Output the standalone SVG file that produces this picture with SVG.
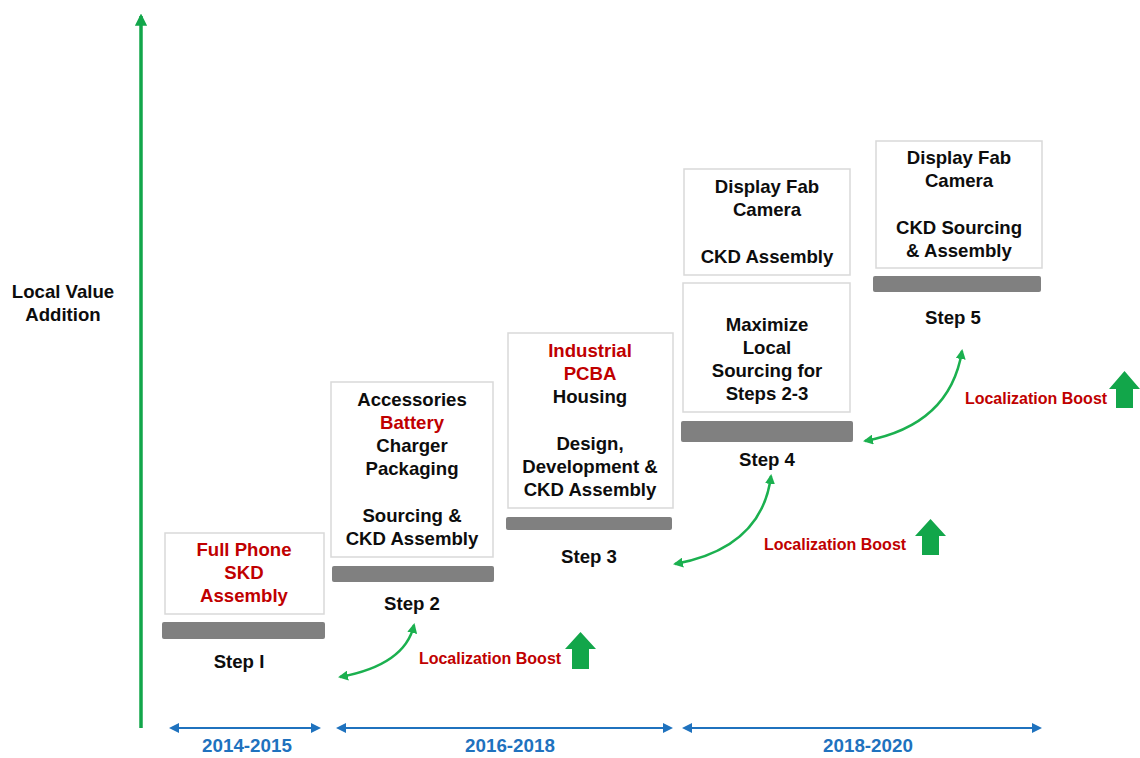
<svg xmlns="http://www.w3.org/2000/svg" width="1140" height="758" viewBox="0 0 1140 758">
<defs>
<style>
text{font-family:"Liberation Sans",Arial,sans-serif;font-weight:bold;text-anchor:middle}
.t{font-size:18.6px;fill:#0d0d0d}
.r{fill:#C00000}
.box{fill:#fff;stroke:#D9D9D9;stroke-width:1.5}
.bar{fill:#808080}
.lb{font-size:16px;fill:#C00000}
.yr{font-size:18.8px;fill:#1F72BE}
.curve{fill:none;stroke:#1BB04F;stroke-width:2.5}
.tl{stroke:#1F72BE;stroke-width:2;fill:none}
.up{fill:#12A64A}
</style>
<marker id="ga" viewBox="0 0 10 10" refX="8" refY="5" markerWidth="4" markerHeight="4" orient="auto-start-reverse"><path d="M0,0 L10,5 L0,10 z" fill="#1BB04F"/></marker>
<marker id="ba" viewBox="0 0 10 10" refX="8" refY="5" markerWidth="5" markerHeight="5" orient="auto-start-reverse"><path d="M0,0 L10,5 L0,10 z" fill="#1F72BE"/></marker>
<marker id="va" viewBox="0 0 10 10" refX="8" refY="5" markerWidth="3.5" markerHeight="3.5" orient="auto"><path d="M0,0 L10,5 L0,10 z" fill="#12A64A"/></marker>
</defs>
<rect width="1140" height="758" fill="#fff"/>

<g id="axis">
<line x1="141" y1="728" x2="141" y2="16" stroke="#12A64A" stroke-width="3.5" marker-end="url(#va)"/>
<text class="t" x="63" y="298">Local Value</text>
<text class="t" x="63" y="321">Addition</text>
</g>

<g id="step1">
<rect class="box" x="165" y="533" width="159" height="81"/>
<text class="t r" x="244" y="556">Full Phone</text>
<text class="t r" x="244" y="579">SKD</text>
<text class="t r" x="244" y="602">Assembly</text>
<rect class="bar" x="162" y="622" width="163" height="17" rx="2"/>
<text class="t" x="239" y="668">Step I</text>
</g>

<g id="step2">
<rect class="box" x="331" y="382" width="162" height="175"/>
<text class="t" x="412" y="406">Accessories</text>
<text class="t r" x="412" y="429">Battery</text>
<text class="t" x="412" y="452">Charger</text>
<text class="t" x="412" y="475">Packaging</text>
<text class="t" x="412" y="522">Sourcing &amp;</text>
<text class="t" x="412" y="545">CKD Assembly</text>
<rect class="bar" x="332" y="566" width="162" height="16" rx="2"/>
<text class="t" x="412" y="610">Step 2</text>
</g>

<g id="step3">
<rect class="box" x="508" y="333" width="165" height="175"/>
<text class="t r" x="590" y="357">Industrial</text>
<text class="t r" x="590" y="380">PCBA</text>
<text class="t" x="590" y="403">Housing</text>
<text class="t" x="590" y="450">Design,</text>
<text class="t" x="590" y="473">Development &amp;</text>
<text class="t" x="590" y="496">CKD Assembly</text>
<rect class="bar" x="506" y="517" width="166" height="13" rx="2"/>
<text class="t" x="589" y="563">Step 3</text>
</g>

<g id="step4">
<rect class="box" x="684" y="169" width="166" height="106"/>
<text class="t" x="767" y="193">Display Fab</text>
<text class="t" x="767" y="216">Camera</text>
<text class="t" x="767" y="263">CKD Assembly</text>
<rect class="box" x="683" y="283" width="167" height="129"/>
<text class="t" x="767" y="331">Maximize</text>
<text class="t" x="767" y="354">Local</text>
<text class="t" x="767" y="377">Sourcing for</text>
<text class="t" x="767" y="400">Steps 2-3</text>
<rect class="bar" x="681" y="421" width="172" height="21" rx="2"/>
<text class="t" x="767" y="466">Step 4</text>
</g>

<g id="step5">
<rect class="box" x="876" y="141" width="166" height="127"/>
<text class="t" x="959" y="164">Display Fab</text>
<text class="t" x="959" y="187">Camera</text>
<text class="t" x="959" y="234">CKD Sourcing</text>
<text class="t" x="959" y="257">&amp; Assembly</text>
<rect class="bar" x="873" y="276" width="168" height="16" rx="2"/>
<text class="t" x="953" y="324">Step 5</text>
</g>

<g id="boost1">
<text class="lb" x="490" y="664">Localization Boost</text>
<path class="up" d="M572,669 L572,649 L565,649 L580.5,632 L596,649 L589,649 L589,669 Z"/>
</g>
<g id="boost2">
<text class="lb" x="835" y="550">Localization Boost</text>
<path class="up" d="M922,555 L922,536 L915,536 L930.5,519 L946,536 L939,536 L939,555 Z"/>
</g>
<g id="boost3">
<text class="lb" x="1036" y="404">Localization Boost</text>
<path class="up" d="M1116,408 L1116,389 L1109,389 L1124.5,371 L1140,389 L1133,389 L1133,408 Z"/>
</g>

<g id="connectors">
<path class="curve" d="M340,677 Q405,665 414,625" marker-start="url(#ga)" marker-end="url(#ga)"/>
<path class="curve" d="M675,564 Q762,548 771,476" marker-start="url(#ga)" marker-end="url(#ga)"/>
<path class="curve" d="M865,441 Q950,425 962,351" marker-start="url(#ga)" marker-end="url(#ga)"/>
<line class="tl" x1="171" y1="728" x2="319" y2="728" marker-start="url(#ba)" marker-end="url(#ba)"/>
<line class="tl" x1="338" y1="728" x2="671" y2="728" marker-start="url(#ba)" marker-end="url(#ba)"/>
<line class="tl" x1="684" y1="728" x2="1040" y2="728" marker-start="url(#ba)" marker-end="url(#ba)"/>
</g>

<g id="years">
<text class="yr" x="247" y="752">2014-2015</text>
<text class="yr" x="510" y="752">2016-2018</text>
<text class="yr" x="868" y="752">2018-2020</text>
</g>
</svg>
